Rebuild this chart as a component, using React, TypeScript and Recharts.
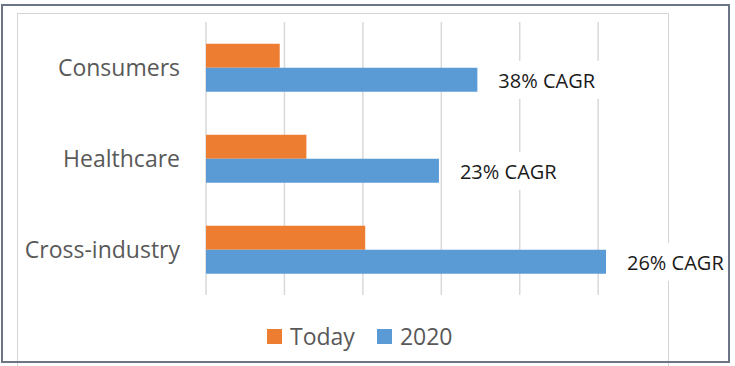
import React from 'react';
import { BarChart, Bar, XAxis, YAxis, CartesianGrid, Legend, LabelList } from 'recharts';

const categories = ['Consumers', 'Healthcare', 'Cross-industry'];
const todayValues = [0.94, 1.28, 2.03];
const values2020 = [3.46, 2.97, 5.1];
const cagrLabels = ['38% CAGR', '23% CAGR', '26% CAGR'];
const xTicks = [0, 1, 2, 3, 4, 5];
const X_MAX = 5.1;

const ORANGE = '#ED7D31';
const BLUE = '#5B9BD5';
const FONT = '"Open Sans", sans-serif';

const data = categories.map((name, i) => ({
  name,
  today: todayValues[i],
  y2020: values2020[i],
  cagr: cagrLabels[i],
}));

// white boxed label to the right of the 2020 bar
const CagrLabel = (props: any) => {
  const { x, y, width, height, value } = props;
  const end = x + width;
  const cy = y + height / 2;
  return (
    <g>
      <rect x={end + 8} y={cy - 19} width={114} height={38} fill="#fff" />
      <text
        x={end + 21}
        y={cy + 1}
        dominantBaseline="central"
        fontSize={20}
        fontFamily={FONT}
        fill="#1a1a1a"
      >
        {value}
      </text>
    </g>
  );
};

const LegendContent = () => (
  <div style={{ display: 'flex', alignItems: 'center', fontFamily: FONT, fontSize: 23, color: '#595959' }}>
    <span style={{ width: 15, height: 15, background: ORANGE, marginRight: 8 }} />
    <span style={{ marginRight: 22 }}>Today</span>
    <span style={{ width: 15, height: 15, background: BLUE, marginRight: 8 }} />
    <span>2020</span>
  </div>
);

// only draw gridlines at the tick values, not at the plot edge
const gridX = ({ offset }: any) => xTicks.map((t) => offset.left + (t / X_MAX) * offset.width);

export default function App() {
  return (
    <div style={{ position: 'absolute', left: 0, top: 0, width: 735, height: 366, background: '#fff' }}>
      <div
        style={{
          position: 'absolute',
          left: 17,
          top: 13,
          width: 652,
          height: 360,
          borderTop: '1px solid #d4d4d4',
          borderLeft: '1px solid #d4d4d4',
          borderRight: '1px solid #d4d4d4',
          boxSizing: 'border-box',
        }}
      />
      <div style={{ position: 'absolute', left: 0, top: 0 }}>
        <BarChart
          width={735}
          height={366}
          data={data}
          layout="vertical"
          margin={{ top: 22, right: 129, left: 0, bottom: 71 }}
          barCategoryGap="24%"
          barGap={0}
        >
          <CartesianGrid
            horizontal={false}
            stroke="#d9d9d9"
            strokeWidth={1.5}
            verticalCoordinatesGenerator={gridX}
          />
          <XAxis type="number" domain={[0, X_MAX]} ticks={xTicks} hide />
          <YAxis
            type="category"
            dataKey="name"
            width={206}
            axisLine={false}
            tickLine={false}
            tickSize={0}
            tickMargin={26}
            tick={{ fill: '#595959', fontSize: 23, fontFamily: FONT }}
          />
          <Legend
            verticalAlign="middle"
            align="center"
            content={<LegendContent />}
            wrapperStyle={{ position: 'absolute', top: 320, left: 267, width: 300, height: 30 }}
          />
          <Bar dataKey="today" name="Today" fill={ORANGE} isAnimationActive={false} />
          <Bar dataKey="y2020" name="2020" fill={BLUE} isAnimationActive={false}>
            <LabelList dataKey="cagr" content={<CagrLabel />} />
          </Bar>
        </BarChart>
      </div>
      <div
        style={{
          position: 'absolute',
          left: 1,
          top: 4,
          width: 729,
          height: 359,
          border: '2px solid #6b7585',
          boxSizing: 'border-box',
          pointerEvents: 'none',
        }}
      />
    </div>
  );
}
